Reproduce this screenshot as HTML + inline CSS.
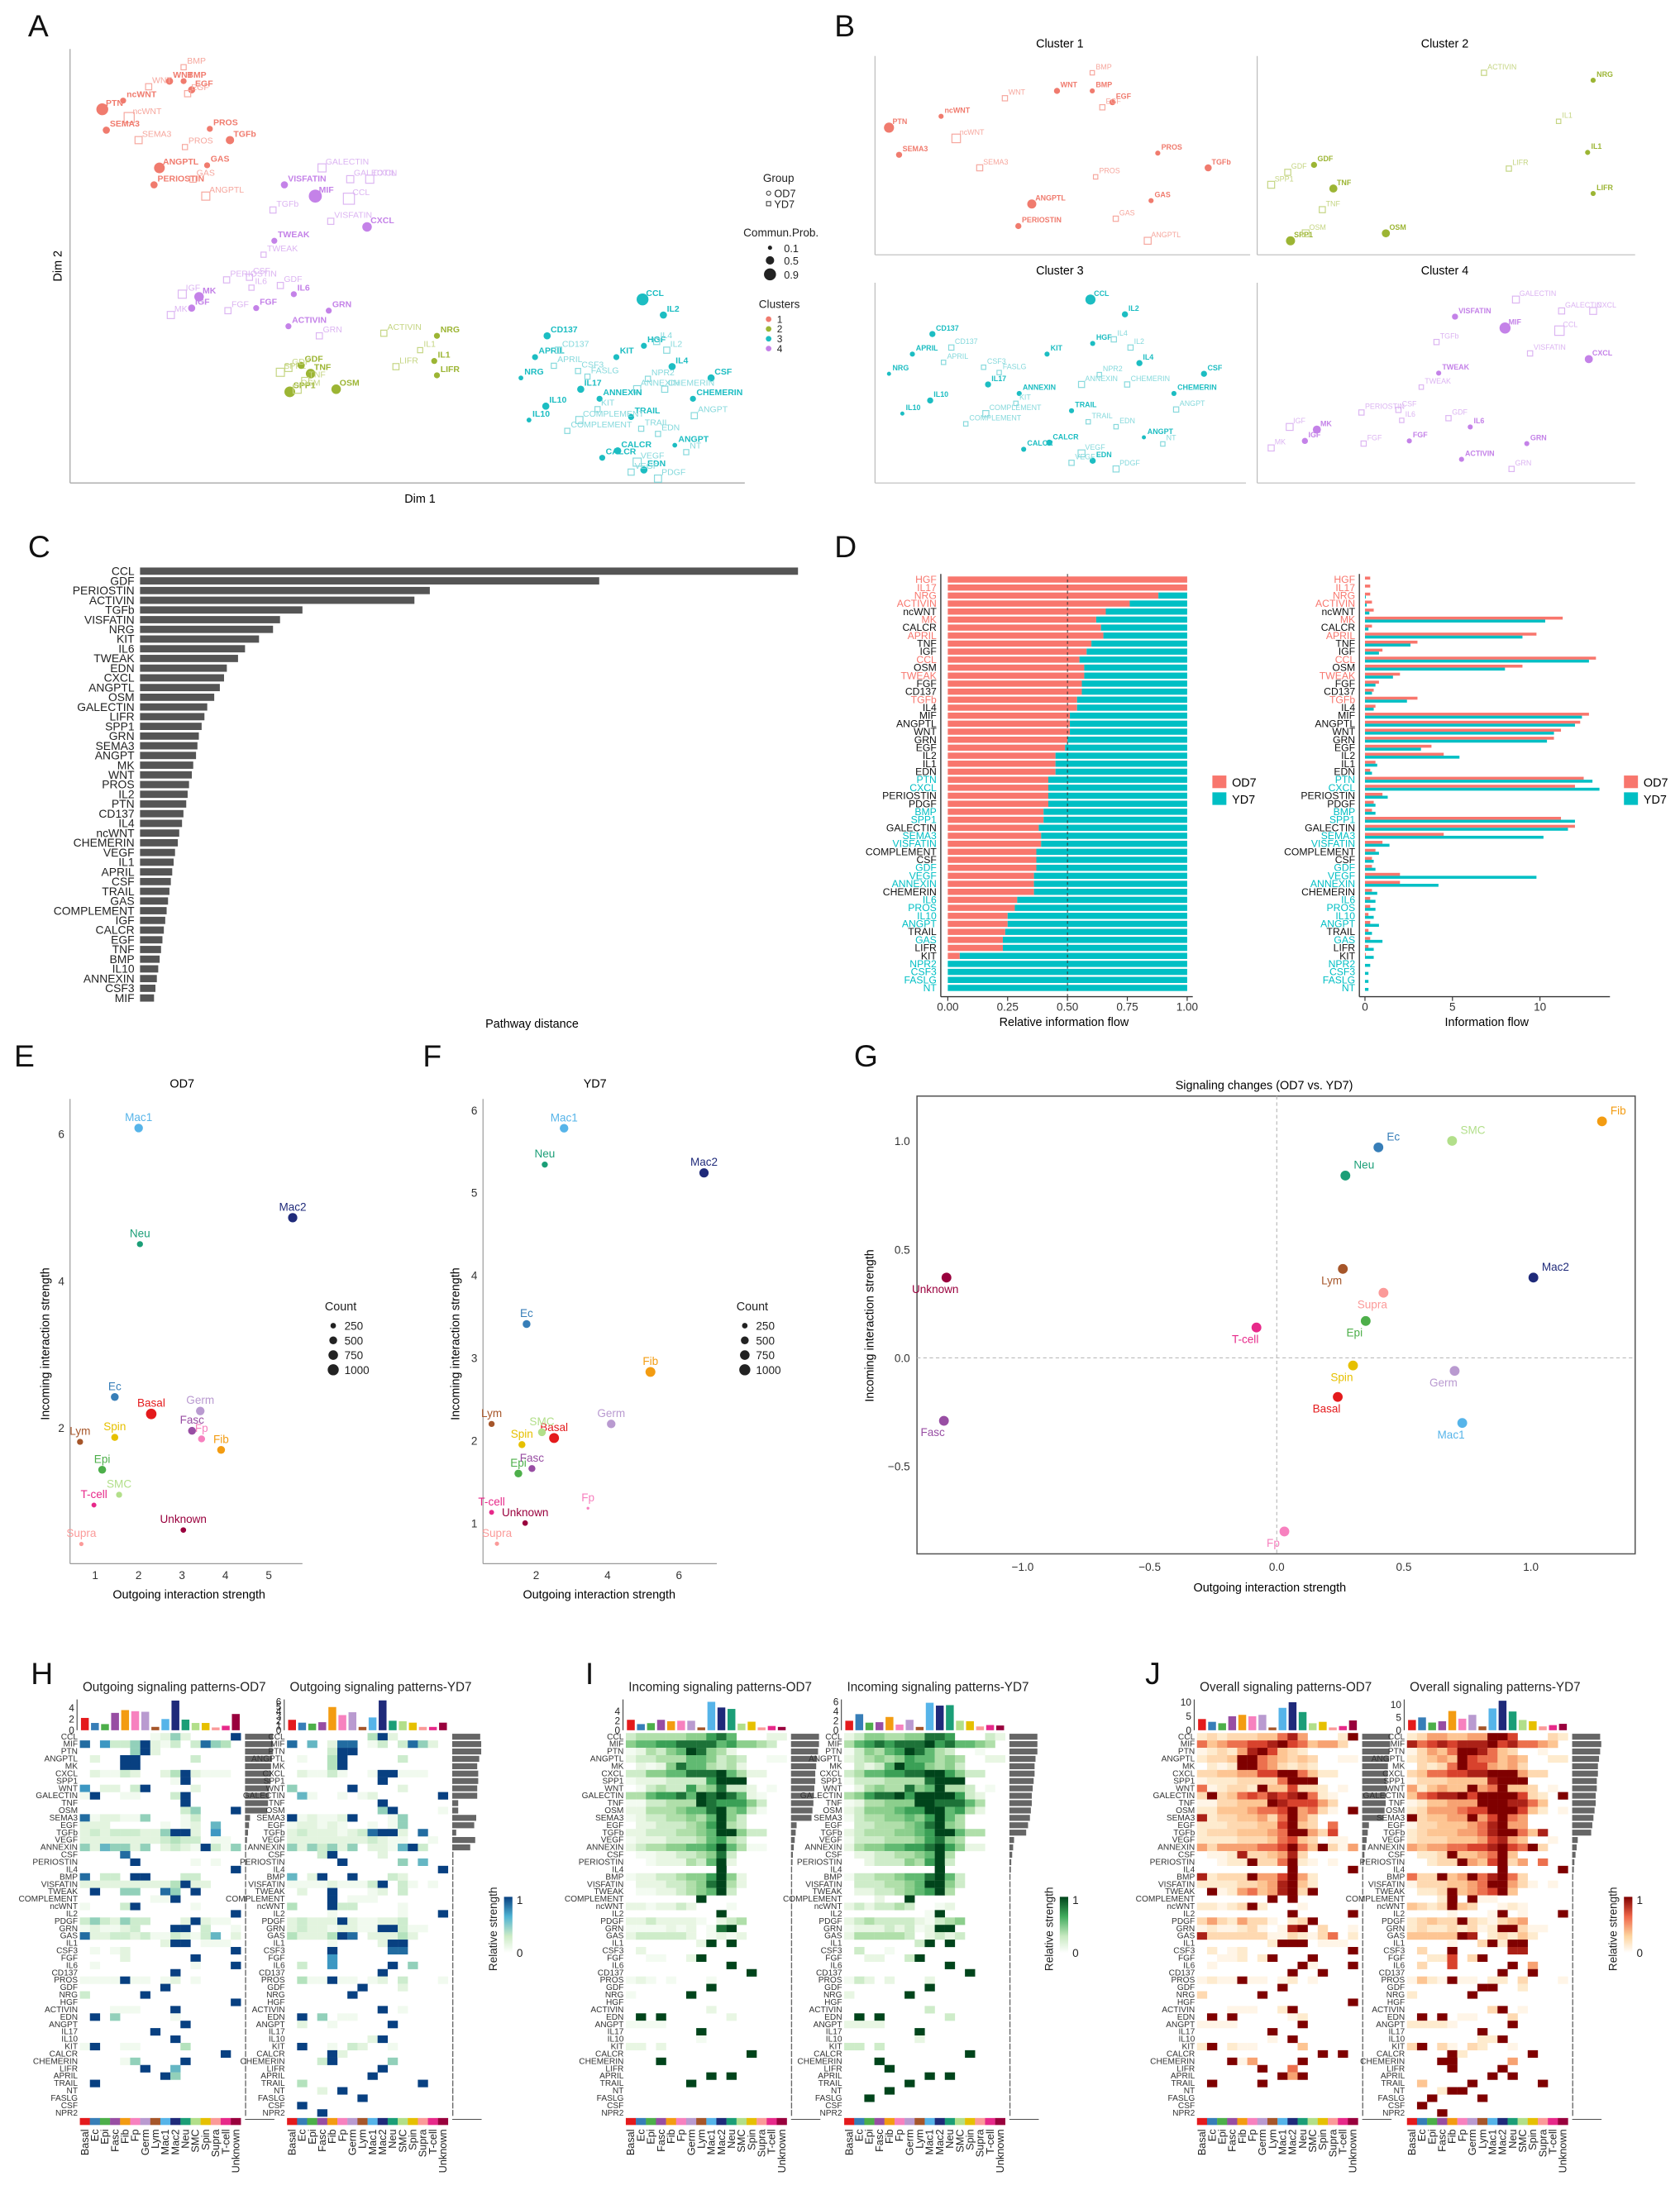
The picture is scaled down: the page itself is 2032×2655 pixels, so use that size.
<!DOCTYPE html>
<html><head><meta charset="utf-8"><title>Signaling figure</title>
<style>
html,body{margin:0;padding:0;background:#fff}
svg{display:block;font-family:"Liberation Sans",Arial,sans-serif}
</style></head>
<body>
<svg id="fig" xmlns="http://www.w3.org/2000/svg" width="2032" height="2655" viewBox="0 0 1200 1568">
<defs>
<linearGradient id="gGnBu" x1="0" y1="1" x2="0" y2="0"><stop offset="0" stop-color="#ffffff"/><stop offset=".3" stop-color="#ccebc5"/><stop offset=".65" stop-color="#4eb3d3"/><stop offset="1" stop-color="#084081"/></linearGradient>
<linearGradient id="gGreens" x1="0" y1="1" x2="0" y2="0"><stop offset="0" stop-color="#ffffff"/><stop offset=".3" stop-color="#c7e9c0"/><stop offset=".65" stop-color="#41ab5d"/><stop offset="1" stop-color="#00441b"/></linearGradient>
<linearGradient id="gOrRd" x1="0" y1="1" x2="0" y2="0"><stop offset="0" stop-color="#ffffff"/><stop offset=".3" stop-color="#fdd49e"/><stop offset=".65" stop-color="#ef6548"/><stop offset="1" stop-color="#7f0000"/></linearGradient>
</defs>
<rect x="0" y="0" width="1200" height="1568" fill="#fff"/>
<g font-size="22" fill="#111">
<text x="20" y="26">A</text>
<text x="596" y="26">B</text>
<text x="20" y="398">C</text>
<text x="596" y="398">D</text>
<text x="10" y="762">E</text>
<text x="302" y="762">F</text>
<text x="610" y="762">G</text>
<text x="22" y="1203">H</text>
<text x="418" y="1203">I</text>
<text x="818" y="1203">J</text>
</g>
<!-- Panel A axes -->
<line x1="50" y1="35" x2="50" y2="345" stroke="#aaa" stroke-width="0.8"/>
<line x1="50" y1="345" x2="532" y2="345" stroke="#aaa" stroke-width="0.8"/>
<text x="300" y="359" font-size="8.5" text-anchor="middle">Dim 1</text>
<text x="44" y="190" font-size="8.5" text-anchor="middle" transform="rotate(-90 44 190)">Dim 2</text>
<g font-size="8" fill="#222">
<text x="545" y="130">Group</text>
<circle cx="549" cy="138" r="1.5" fill="none" stroke="#333" stroke-width=".6"/><text x="553" y="141" font-size="7.5">OD7</text>
<rect x="547.5" y="144" width="3" height="3" fill="none" stroke="#333" stroke-width=".6"/><text x="553" y="148.5" font-size="7.5">YD7</text>
<text x="531" y="169">Commun.Prob.</text>
<circle cx="550" cy="177" r="1.5" fill="#222"/><text x="560" y="180" font-size="7.5">0.1</text>
<circle cx="550" cy="186" r="3" fill="#222"/><text x="560" y="189" font-size="7.5">0.5</text>
<circle cx="550" cy="196" r="4.3" fill="#222"/><text x="560" y="199" font-size="7.5">0.9</text>
<text x="542" y="220">Clusters</text>
<circle cx="549" cy="228" r="2" fill="#f07b6e"/><text x="555" y="230.5" font-size="7">1</text>
<circle cx="549" cy="235" r="2" fill="#9cb534"/><text x="555" y="237.5" font-size="7">2</text>
<circle cx="549" cy="242" r="2" fill="#1cbdc2"/><text x="555" y="244.5" font-size="7">3</text>
<circle cx="549" cy="249" r="2" fill="#c482e8"/><text x="555" y="251.5" font-size="7">4</text>
</g>
<!-- Panel B titles -->
<g font-size="8.5" text-anchor="middle">
<text x="757" y="34">Cluster 1</text>
<text x="1032" y="34">Cluster 2</text>
<text x="757" y="196">Cluster 3</text>
<text x="1032" y="196">Cluster 4</text>
</g>
<text x="380" y="734" font-size="8.5" text-anchor="middle">Pathway distance</text>
<text x="760" y="733" font-size="8.5" text-anchor="middle">Relative information flow</text>
<text x="1062" y="733" font-size="8.5" text-anchor="middle">Information flow</text>
<g font-size="8.5">
<rect x="866" y="554" width="10" height="9" fill="#f8766d"/><text x="880" y="562">OD7</text>
<rect x="866" y="566" width="10" height="9" fill="#00bfc4"/><text x="880" y="574">YD7</text>
<rect x="1160" y="554" width="10" height="9" fill="#f8766d"/><text x="1174" y="562">OD7</text>
<rect x="1160" y="566" width="10" height="9" fill="#00bfc4"/><text x="1174" y="574">YD7</text>
</g>
<!-- E/F/G titles -->
<text x="130" y="777" font-size="8.5" text-anchor="middle">OD7</text>
<text x="425" y="777" font-size="8.5" text-anchor="middle">YD7</text>
<text x="903" y="778" font-size="8.5" text-anchor="middle">Signaling changes (OD7 vs. YD7)</text>
<text x="135" y="1142" font-size="8.5" text-anchor="middle">Outgoing interaction strength</text>
<text x="428" y="1142" font-size="8.5" text-anchor="middle">Outgoing interaction strength</text>
<text x="907" y="1137" font-size="8.5" text-anchor="middle">Outgoing interaction strength</text>
<text x="35" y="960" font-size="8.5" text-anchor="middle" transform="rotate(-90 35 960)">Incoming interaction strength</text>
<text x="328" y="960" font-size="8.5" text-anchor="middle" transform="rotate(-90 328 960)">Incoming interaction strength</text>
<text x="624" y="947" font-size="8.5" text-anchor="middle" transform="rotate(-90 624 947)">Incoming interaction strength</text>
<g id="layer"></g>
</svg>
<script>
// ---------- Panel A / B data ----------
const aLabels=["WNT","BMP","EGF","BMP","WNT","EGF","PTN","ncWNT","ncWNT","SEMA3","SEMA3","PROS","PROS","TGFb","ANGPTL","GAS","GAS","PERIOSTIN","ANGPTL",
"GALECTIN","GALECTIN","VISFATIN","MIF","CCL","CXCL","TGFb","CXCL","VISFATIN","TWEAK","TWEAK","PERIOSTIN","CSF","GDF","MK","IGF","IGF","MK","FGF","FGF","IL6","ACTIVIN","GRN","GRN","IL6",
"ACTIVIN","NRG","IL1","IL1","LIFR","LIFR","SPP1","GDF","TNF","SPP1","OSM","OSM","TNF","GDF",
"CCL","IL2","CD137","APRIL","CD137","HGF","IL4","IL2","KIT","CSF3","APRIL","IL4","CSF","NRG","IL17","ANNEXIN","CHEMERIN","ANNEXIN","IL10","CHEMERIN","TRAIL","ANGPT","IL10","COMPLEMENT","ANGPT","CALCR","VEGF","CALCR","EDN","PDGF","NT","EDN","KIT","COMPLEMENT","FASLG","NPR2","TRAIL","VEGF"];
const aCluster=[1,1,1,1,1,1,1,1,1,1,1,1,1,1,1,1,1,1,1, 4,4,4,4,4,4,4,4,4,4,4,4,4,4,4,4,4,4,4,4,4,4,4,4,4, 2,2,2,2,2,2,2,2,2,2,2,2,2,2, 3,3,3,3,3,3,3,3,3,3,3,3,3,3,3,3,3,3,3,3,3,3,3,3,3,3,3,3,3,3,3,3,3,3,3,3,3,3];
const aGroup="OOOYYYOOYOYOYOOOYOY"+"YYOOYYYOYOYYYYOYOYYOOOOYY"+"YOYOOYYOOOYOYY"+"OOOOYOYYOYYOOOOYYOOOOYOYOOYOOYYYYYYY";
const aDim1=[14.8,16.9,18.1,16.9,11.7,17.5,4.8,7.9,8.8,5.4,10.2,20.8,17.1,23.8,13.3,20.4,18.3,12.5,20.2,
37.5,41.7,31.9,36.5,41.5,44.6,30.2,44.2,38.8,30.4,28.8,23.3,26.7,31.3,19.2,16.7,18.1,15.0,23.5,27.7,33.3,32.5,38.5,37.1,27.0,
46.7,54.6,52.1,54.2,54.6,48.5,31.3,34.4,35.8,32.7,33.8,39.6,35.0,32.5,
85.2,88.3,71.0,69.2,72.7,85.4,87.3,88.8,81.3,75.6,72.0,89.6,95.4,67.1,76.0,84.4,88.5,78.8,70.8,92.7,83.5,92.9,68.3,75.8,90.0,81.5,84.4,79.2,85.4,87.5,91.7,87.5,78.5,74.0,77.0,86.0,85.0,83.5];
const aDim2=[92.6,92.6,90.6,95.8,91.3,89.7,86.1,88.1,84.2,81.3,79.0,81.6,77.4,79.0,72.6,73.2,70.0,68.7,66.1,
72.6,70.0,68.7,66.1,65.5,70.0,62.9,59.0,60.3,55.8,52.6,46.8,47.4,45.5,42.9,43.5,40.3,38.7,39.7,40.3,43.5,36.1,39.7,33.9,45.0,
34.5,33.9,30.6,28.1,24.8,26.8,25.5,27.1,25.2,21.0,21.6,21.6,23.5,26.5,
42.3,38.7,33.9,29.0,30.6,31.6,32.6,30.6,29.0,25.8,27.0,26.8,24.2,24.2,21.6,21.6,21.6,19.4,17.7,19.4,15.2,15.5,14.5,14.5,8.7,7.4,4.8,5.8,3.0,1.0,7.1,11.3,17.0,12.0,24.5,24.0,12.5,2.5];
const aProb=[.3,.2,.3,.1,.2,.2,.7,.2,.6,.3,.3,.2,.1,.4,.6,.2,.2,.3,.4,
.4,.3,.3,.8,.7,.4,.2,.5,.2,.2,.1,.2,.2,.2,.5,.4,.3,.3,.2,.2,.2,.2,.2,.2,.1,
.2,.2,.1,.2,.2,.2,.4,.3,.5,.6,.4,.5,.3,.3,
.7,.3,.3,.2,.2,.2,.2,.2,.2,.1,.1,.3,.3,.1,.3,.3,.2,.2,.3,.2,.2,.2,.1,.3,.1,.3,.4,.2,.3,.3,.1,.1,.1,.1,.1,.1,.1,.2];

// ---------- Panel C data ----------
const cNames=["CCL","GDF","PERIOSTIN","ACTIVIN","TGFb","VISFATIN","NRG","KIT","IL6","TWEAK","EDN","CXCL","ANGPTL","OSM","GALECTIN","LIFR","SPP1","GRN","SEMA3","ANGPT","MK","WNT","PROS","IL2","PTN","CD137","IL4","ncWNT","CHEMERIN","VEGF","IL1","APRIL","CSF","TRAIL","GAS","COMPLEMENT","IGF","CALCR","EGF","TNF","BMP","IL10","ANNEXIN","CSF3","MIF"];
const cDist=[4.70,3.28,2.07,1.96,1.16,1.00,0.95,0.85,0.75,0.70,0.62,0.60,0.57,0.53,0.48,0.46,0.44,0.42,0.41,0.40,0.38,0.37,0.35,0.34,0.33,0.31,0.30,0.28,0.27,0.25,0.24,0.23,0.22,0.21,0.20,0.19,0.18,0.17,0.16,0.15,0.14,0.13,0.12,0.11,0.10];

// ---------- Panel D data ----------
const dNames=["HGF","IL17","NRG","ACTIVIN","ncWNT","MK","CALCR","APRIL","TNF","IGF","CCL","OSM","TWEAK","FGF","CD137","TGFb","IL4","MIF","ANGPTL","WNT","GRN","EGF","IL2","IL1","EDN","PTN","CXCL","PERIOSTIN","PDGF","BMP","SPP1","GALECTIN","SEMA3","VISFATIN","COMPLEMENT","CSF","GDF","VEGF","ANNEXIN","CHEMERIN","IL6","PROS","IL10","ANGPT","TRAIL","GAS","LIFR","KIT","NPR2","CSF3","FASLG","NT"];
const dSig="rrrrkrkrkkrkrkkrkkkkkkkkkttkkttkttkktttkttttktkktttt";
const dOD7Frac=[1,1,.88,.76,.66,.62,.64,.65,.6,.58,.55,.57,.57,.56,.56,.54,.54,.51,.51,.51,.5,.49,.45,.45,.45,.42,.42,.42,.42,.4,.4,.38,.39,.39,.37,.37,.37,.36,.36,.36,.29,.28,.25,.25,.24,.23,.23,.05,0,0,0,0];
const dOD7Flow=[.3,.3,.3,.4,.5,11.3,.4,9.8,3.0,1.0,13.2,9.0,2.0,.8,.5,3.0,.6,12.8,12.3,11.2,10.8,3.8,4.5,.6,.3,12.5,12.0,1.0,.5,.4,11.2,12.0,4.5,1.0,.6,.4,.4,2.0,2.0,.4,.3,.3,.2,.3,.2,.3,.2,.05,0,0,0,0];
const dYD7Flow=[0,0,.05,.1,.25,10.3,.2,9.0,2.6,.8,12.8,8.0,1.6,.6,.4,2.4,.5,12.4,12.0,10.8,10.4,3.2,5.4,.7,.4,13.0,13.4,1.3,.6,.6,12.0,11.6,10.2,1.4,.8,.5,.6,9.8,4.2,.7,.6,.6,.5,.8,.4,1.0,.5,.5,.3,.2,.2,.2];
const dRelTicks=["0.00","0.25","0.50","0.75","1.00"];
const dFlowTicks=[0,5,10];

// ---------- Panels E/F/G data ----------
const cellTypes=["Basal","Ec","Epi","Fasc","Fib","Fp","Germ","Lym","Mac1","Mac2","Neu","SMC","Spin","Supra","T-cell","Unknown"];
const cellColors=["#e41a1c","#377eb8","#4daf4a","#984ea3","#f39c12","#f781bf","#b99ad0","#a6562a","#56b4e9","#1f2a7a","#1b9e77","#b2df8a","#e6c000","#fb9a99","#e7298a","#99003d"];
const eOut=[2.29,1.45,1.16,3.23,3.9,3.45,3.42,0.65,2.0,5.55,2.03,1.55,1.45,0.68,0.97,3.03];
const eIn=[2.19,2.42,1.43,1.96,1.7,1.85,2.23,1.81,6.08,4.86,4.5,1.09,1.87,0.42,0.95,0.61];
const eCount=[900,500,500,500,500,400,600,300,600,700,300,300,400,150,200,250];
const fOut=[2.5,1.73,1.5,1.88,5.2,3.45,4.1,0.75,2.78,6.7,2.24,2.16,1.6,0.9,0.75,1.69];
const fIn=[2.03,3.41,1.6,1.66,2.83,1.18,2.2,2.2,5.78,5.24,5.34,2.1,1.95,0.75,1.13,1.0];
const fCount=[800,500,500,400,800,50,600,300,600,700,300,500,400,150,200,250];
const gOut=[0.24,0.40,0.35,-1.31,1.28,0.03,0.70,0.26,0.73,1.01,0.27,0.69,0.30,0.42,-0.08,-1.30];
const gIn=[-0.18,0.97,0.17,-0.29,1.09,-0.80,-0.06,0.41,-0.30,0.37,0.84,1.00,-0.035,0.30,0.14,0.37];
const eTicksX=[1,2,3,4,5], eTicksY=[2,4,6];
const fTicksX=[2,4,6], fTicksY=[1,2,3,4,5,6];
const gTicksX=[-1.0,-0.5,0.0,0.5,1.0], gTicksY=[-0.5,0.0,0.5,1.0];
const countLegend=[250,500,750,1000];

// ---------- Heatmap data ----------
const hmRows=["CCL","MIF","PTN","ANGPTL","MK","CXCL","SPP1","WNT","GALECTIN","TNF","OSM","SEMA3","EGF","TGFb","VEGF","ANNEXIN","CSF","PERIOSTIN","IL4","BMP","VISFATIN","TWEAK","COMPLEMENT","ncWNT","IL2","PDGF","GRN","GAS","IL1","CSF3","FGF","IL6","CD137","PROS","GDF","NRG","HGF","ACTIVIN","EDN","ANGPT","IL17","IL10","KIT","CALCR","CHEMERIN","LIFR","APRIL","TRAIL","NT","FASLG","CSF","NPR2"];
const hOD7=["0000000125200009","8073359213038540","0000059200000000","0200990000030000","0000990000000000","0211320024921110","0000000001900000","7022039000020000","1900110003900000","0000000000900000","0000000000350009","8122115000130000","2220000010120600","2323332259920700","2222222234330110","5265525023219315","0000800000000000","0000090000010100","0000000000000009","8033099000330000","2222222224922000","0900550085090000","0000000119000000","1000390000010000","0000000000000009","3532533000292110","1211230009903001","8223323113213602","0000000029901110","0101200000000009","0000200000090000","0100000000010009","0000000009000000","1111911012010000","0000000090000000","3000009000000000","0000000000000009","0001110009000000","0905000001000000","0000000000900000","0000000900000000","0000000009000000","1900110000400000","0000000000000090","0000150000900000","0000009006000000","0000000095000000","0900000000000000","0000000000000000","0000000000000000","0000000000000000","0000000000000000"];
const hYD7=["0000000049200000","8060288013038520","0000399000000000","0100490000030000","0000490000000000","0211310019911100","0000000009000000","5000009000020000","0610010120000009","0000000009000000","0000000005900001","9121129000150000","1221210010150000","2322212389920800","2222222232110010","5253525022169300","0003900002000000","0000090000050600","0000000000000009","6029009000320000","1111211139031010","0200900012030000","0000901110000000","4000933000010000","0000100000010009","2322292112230000","2322122119931100","4222498022242000","0000100002990000","0000900000880000","0000700000000000","0300700000905000","0000000009000000","0411911012030001","0000000900020000","0000009000000000","0000000000000000","0000000009010000","0905011000000000","0200100000900000","0000000000000000","0000000029000000","0900103200100000","0000920000000000","0003900000500000","0000000009000000","0000000090000000","0400000000000900","0002090000000000","0000000900000000","0900000000000000","0009000000000000"];
const iOD7=["3444445578600022","5667788886755430","1243569854200000","2334446653430011","0212586643420000","3355668889642200","1222333379990000","0134337458332010","4467786989862100","1133444987775300","2244456689563100","1233445469530000","0223334579430000","2233344569953300","1222333467430000","2344556679641100","0112233458300000","0012224369200000","0000000009000000","1223345579520000","0222334589420000","0112234569300000","0000000900000000","2212232000100000","0000000009000000","2232222102340000","1111212018900000","2333332012120000","0000000290900000","0200000000000000","0011002900000000","0000000000900000","0000000000009000","1210100010000000","0000000090000000","1000009000000000","0000000000000000","0000000020000000","0909000000200000","1111000000000000","0000000900000000","0000000100000000","2202000000000000","0000000000009000","0009000000000000","0000000000000000","0000000090900000","0000009000000000","0000000000000000","0000000000000000","0000000000000000","0000000000000000"];
const iYD7=["2355445588700032","4678788897866540","1354679864300100","2345457664540022","0323697754530000","3466778899753300","1333444489990000","0245448569443010","4578897999973200","1244555998886400","2355567799674200","1344556579640000","0334445689540000","2344455679964400","1333444578540000","2455667789752200","0223344569400000","0023335479300000","0000000009000000","1334456689630000","0333445699530000","0223345679400000","0002009000000000","2323343001200000","0000000019000000","2343333213450000","1222323129900000","2444443023230000","0000000390900000","0300100000000000","0022003900000000","0000000000900000","0000000000009000","1320200020000000","0000000090000000","2000009000000000","0000000000000000","0000000030000000","0909000000300000","2222000000000000","0000000900000000","0000000200000000","3303000000000000","0000000000009000","0009000000000000","0000900000000000","0000000090900000","0000009000000000","0000900000000000","0090000000000000","0000000000000000","0000000000000000"];
const jOD7=["2323334468500029","6456677897645530","1232589743200000","2334996543430011","0212996532320000","3344557799642200","1222333369990000","6123329447332010","3934676878962100","1133444987775300","2244456679563109","8233445369530000","2223334479430600","2333444569953700","2222333467430110","5355556679649315","0112833458300000","0012293369210100","0000000009000009","8233395579520000","2222334589420000","0912564589390000","0000000909000000","2212392000100000","0000000009000009","3532533102390000","1211231018903001","8333333113213602","0000000299901110","0201200000000009","0011202900090000","0100000000910009","0000000009009000","1211911012010000","0000000090000000","3000009000000000","0000000000000009","0001110029000000","0909000001200000","1111000000900000","0000000900000000","0000000109000000","2902110000400000","0000000000009090","0009150000900000","0000009006000000","0000000095900000","0900009000000000","0000000000000000","0000000000000000","0000000000000000","0000000000000000"];
const jYD7=["2355445599700032","8678788897866540","1354699864300100","2345497664540022","0323697754530000","3466778899953300","1333444489990000","5245449569443010","4678897999973209","1244555999886400","2355567799974201","9344559579650000","1334445689550000","2344455689964800","2333444578540010","5455667789769300","0223944569400000","0023395479350600","0000000009000009","6339459689630000","1333445699531010","0223945679400000","0002909110000000","4323943001210000","0000100019010009","2343393213450000","2322323129931100","4444498023242000","0000100392990000","0300900000880000","0022703900000000","0300700000905000","0000000009009000","1421911022030001","0000000990020000","2000009000000000","0000000000000000","0000000039010000","0909011000300000","2222100000900000","0000000900000000","0000000229000000","3903103200100000","0000920000009000","0009900000500000","0000900009000000","0000000090900000","0400009000000900","0002990000000000","0090000900000000","0900000000000000","0009000000000000"];
const hTopOD7=[2.2,1.3,1.1,3.1,3.6,3.4,3.3,0.6,2.0,5.3,1.9,1.3,1.3,0.5,0.8,2.9];
const hTopYD7=[2.2,1.6,1.4,1.7,4.9,3.2,3.8,0.7,2.7,6.3,2.0,1.9,1.6,0.7,0.7,1.6];
const iTopOD7=[2.2,1.3,1.5,2.2,1.9,2.0,2.0,0.6,6.0,4.8,4.5,1.4,1.8,0.6,0.9,0.7];
const iTopYD7=[2.0,3.4,1.6,1.7,2.8,1.2,2.2,0.7,5.8,5.2,5.3,2.0,1.9,0.8,1.1,1.0];
const jTopOD7=[4,3,2.5,5,5.5,5,5.5,1,8,10,6.5,2.5,3,1,1.5,3.5];
const jTopYD7=[4,5,3,3.5,7.5,4.5,6,1.5,8.5,11.5,7.3,4,3.5,1.5,2,2.5];
const hTotOD7=[14,14,14,13.5,13,13,12.5,12,12,11.5,11,2.5,2,1.5,1,.6,.4,.4,.3,.3,.3,.3,.3,.3,.3,.3,.3,.3,.3,.3,.3,.3,.3,.3,.3,.3,.3,.3,.3,.3,.3,.3,.3,.3,.3,.3,.3,.3,.3,.3,.3,.3];
const hTotYD7=[14,14.5,14.5,13.5,12.5,13,13,12.5,12.5,3,3,12,11,2,11.5,9,.6,.6,.5,.5,.5,.5,.5,.5,.5,.5,.5,.5,.5,.5,.5,.5,.5,.5,.5,.5,.5,.5,.5,.5,.5,.5,.5,.5,.5,.5,.5,.5,.5,.5,.5,.5];
const iTotOD7=[15,15,14.5,14,13.5,13,13,12.5,12,12,11.5,11,3,2.5,2,1.5,1,.8,.6,.5,.4,.4,.4,.4,.4,.4,.4,.4,.4,.4,.4,.4,.4,.4,.4,.4,.4,.4,.4,.4,.4,.4,.4,.4,.4,.4,.4,.4,.4,.4,.4,.4];
const iTotYD7=[15,15,15,14,13.5,13.5,13,12.5,12,12,11.5,11,10,9,2.5,2,1.5,1,.8,.6,.5,.5,.5,.5,.5,.5,.5,.5,.5,.5,.5,.5,.5,.5,.5,.5,.5,.5,.5,.5,.5,.5,.5,.5,.5,.5,.5,.5,.5,.5,.5,.5];
const jTotOD7=[25,25,24,24,23,23,22,22,21,21,20,19,6,5,4,3,2,1.5,1,.8,.8,.6,.6,.6,.6,.6,.6,.6,.6,.6,.6,.6,.6,.6,.6,.6,.6,.6,.6,.6,.6,.6,.6,.6,.6,.6,.6,.6,.6,.6,.6,.6];
const jTotYD7=[25,26,25,24,23,23,22,22,21,21,20,19,18,17,5,4,3,2,1.5,1,.8,.8,.8,.8,.8,.8,.8,.8,.8,.8,.8,.8,.8,.8,.8,.8,.8,.8,.8,.8,.8,.8,.8,.8,.8,.8,.8,.8,.8,.8,.8,.8];

// ---------- helpers ----------
const NS='http://www.w3.org/2000/svg';
const L=document.getElementById('layer');
function mk(tag,attrs,parent){const e=document.createElementNS(NS,tag);for(const k in attrs)e.setAttribute(k,attrs[k]);(parent||L).appendChild(e);return e;}
function tx(x,y,s,attrs,parent){const e=mk('text',Object.assign({x:x,y:y},attrs||{}),parent);e.textContent=s;return e;}
function fmt(v,d){return v.toFixed(d).replace('-','\u2212');}
const clDark={1:"#f07b6e",2:"#9cb534",3:"#1cbdc2",4:"#c482e8"};
const clLight={1:"#f6a79e",2:"#c5d583",3:"#86d9dc",4:"#dcb5f2"};

// ---------- Panel A ----------
const ax=d=>50+d*4.8, ay=d=>345-d*3.1;
function drawPoint(i,px,py,scale,prefix){
  const c=aCluster[i], isO=aGroup[i]==='O';
  let m;
  if(isO){
    m=mk('circle',{cx:px,cy:py,r:(1.3+aProb[i]*4.2)*scale,fill:clDark[c]});
  } else {
    const s=(3+aProb[i]*7)*scale;
    m=mk('rect',{x:px-s/2,y:py-s/2,width:s,height:s,fill:'none',stroke:clLight[c],'stroke-width':0.7});
  }
  
  
  const t=tx(px+2.5,py-2.5,aLabels[i],{'font-size':6.2*scale,fill:isO?clDark[c]:clLight[c],'font-weight':isO?'bold':'normal'});
  
  
}
for(let i=0;i<aLabels.length;i++){drawPoint(i,ax(aDim1[i]),ay(aDim2[i]),1,'a');}

// ---------- Panel B ----------
const bBoxes={1:[625,40,893,182],2:[898,40,1168,182],3:[625,202,890,345],4:[898,202,1168,345]};
for(const k of [1,2,3,4]){
  const b=bBoxes[k];
  const la=mk('line',{x1:b[0],y1:b[1],x2:b[0],y2:b[3],stroke:'#bbb','stroke-width':0.7});
  
  
  const lb=mk('line',{x1:b[0],y1:b[3],x2:b[2],y2:b[3],stroke:'#bbb','stroke-width':0.7});
  
  
  const idx=[];for(let i=0;i<aLabels.length;i++)if(aCluster[i]===k)idx.push(i);
  const xs=idx.map(i=>aDim1[i]), ys=idx.map(i=>aDim2[i]);
  const x0=Math.min(...xs),x1=Math.max(...xs),y0=Math.min(...ys),y1=Math.max(...ys);
  const bx=d=>b[0]+10+(d-x0)/(x1-x0)*(b[2]-b[0]-40);
  const by=d=>b[3]-10-(d-y0)/(y1-y0)*(b[3]-b[1]-22);
  idx.forEach(i=>drawPoint(i,bx(aDim1[i]),by(aDim2[i]),0.85,'b'+k));
}

// ---------- Panel C ----------
const cx=v=>100+v*100, cRow=i=>408+i*6.93;
cNames.forEach((n,i)=>{
  const r=mk('rect',{x:100,y:cRow(i)-2.6,width:cx(cDist[i])-100,height:5.2,fill:'#555'});
  
  
  const t=tx(96,cRow(i)+2.8,n,{'font-size':8.2,'text-anchor':'end',fill:'#222'});
  
  
});

// ---------- Panel D ----------
const dx=v=>677+v*171, dRow=i=>414+i*5.72;
const sigCol={r:'#f8766d',t:'#00bfc4',k:'#111'};
dNames.forEach((n,i)=>{
  const y=dRow(i);
  const r1=mk('rect',{x:dx(0),y:y-2.2,width:dx(dOD7Frac[i])-dx(0),height:4.4,fill:'#f8766d'});
  
  
  const r2=mk('rect',{x:dx(dOD7Frac[i]),y:y-2.2,width:dx(1)-dx(dOD7Frac[i]),height:4.4,fill:'#00bfc4'});
  
  
  const t=tx(669,y+2.4,n,{'font-size':7.2,'text-anchor':'end',fill:sigCol[dSig[i]]});
  
  
  // right panel
  const fx=v=>975+v*12.5;
  const b1=mk('rect',{x:975,y:y-2.1,width:fx(dOD7Flow[i])-975,height:2.1,fill:'#f8766d'});
  
  
  const b2=mk('rect',{x:975,y:y,width:fx(dYD7Flow[i])-975,height:2.1,fill:'#00bfc4'});
  
  
  const t2=tx(968,y+2.4,n,{'font-size':7.2,'text-anchor':'end',fill:sigCol[dSig[i]]});
  
  
});
(function(){
  const a1=mk('line',{x1:672,y1:410,x2:672,y2:712,stroke:'#333','stroke-width':0.8});
  
  
  const a2=mk('line',{x1:672,y1:712,x2:852,y2:712,stroke:'#333','stroke-width':0.8});
  
  
  const dl=mk('line',{x1:dx(0.5),y1:410,x2:dx(0.5),y2:712,stroke:'#333','stroke-width':0.6,'stroke-dasharray':'2,2'});
  
  
  dRelTicks.forEach(s=>{
    const v=parseFloat(s);
    const tk=mk('line',{x1:dx(v),y1:712,x2:dx(v),y2:715,stroke:'#333','stroke-width':0.7});
    
    
    const t=tx(dx(v),722,s,{'font-size':8,'text-anchor':'middle',fill:'#333'});
    
    
  });
  const b1=mk('line',{x1:971,y1:410,x2:971,y2:712,stroke:'#333','stroke-width':0.8});
  
  
  const b2=mk('line',{x1:971,y1:712,x2:1150,y2:712,stroke:'#333','stroke-width':0.8});
  
  
  dFlowTicks.forEach(v=>{
    const X=975+v*12.5;
    const tk=mk('line',{x1:X,y1:712,x2:X,y2:715,stroke:'#333','stroke-width':0.7});
    
    
    const t=tx(X,722,String(v),{'font-size':8,'text-anchor':'middle',fill:'#333'});
    
    
  });
})();

// ---------- Panels E / F ----------
function scatter(prefix,outs,ins,counts,sx,sy,ticksX,ticksY,left,bottom,right,top){
  const ya=mk('line',{x1:left,y1:top,x2:left,y2:bottom,stroke:'#999','stroke-width':0.7});
  
  
  const xa=mk('line',{x1:left,y1:bottom,x2:right,y2:bottom,stroke:'#999','stroke-width':0.7});
  
  
  ticksX.forEach(v=>{
    const t=tx(sx(v),bottom+11,String(v),{'font-size':8,'text-anchor':'middle',fill:'#333'});
    
    
  });
  ticksY.forEach(v=>{
    const t=tx(left-4,sy(v)+3,String(v),{'font-size':8,'text-anchor':'end',fill:'#333'});
    
    
  });
  cellTypes.forEach((n,i)=>{
    const c=mk('circle',{cx:sx(outs[i]),cy:sy(ins[i]),r:Math.max(1,Math.sqrt(counts[i])/8),fill:cellColors[i]});
    
    
    const t=tx(sx(outs[i]),sy(ins[i])-5,n,{'font-size':8,'text-anchor':'middle',fill:cellColors[i]});
    
    
  });
}
scatter('e',eOut,eIn,eCount,v=>37+v*31,v=>1125-v*52.5,eTicksX,eTicksY,50,1117,216,785);
scatter('f',fOut,fIn,fCount,v=>332+v*25.5,v=>1147-v*59,fTicksX,fTicksY,345,1117,512,785);
function countLeg(prefix,x,y){
  const t=tx(x,y,'Count',{'font-size':8.5,fill:'#222'});
  
  
  countLegend.forEach((v,i)=>{
    const c=mk('circle',{cx:x+6,cy:y+11+i*10.5,r:Math.sqrt(v)/8,fill:'#222'});
    
    
    const l=tx(x+14,y+14+i*10.5,String(v),{'font-size':8,fill:'#222'});
    
    
  });
}
countLeg('e',232,936);countLeg('f',526,936);

// ---------- Panel G ----------
(function(){
  const gx=v=>912+v*181.5, gy=v=>970-v*155;
  const box=mk('rect',{x:655,y:783,width:513,height:327,fill:'none',stroke:'#555','stroke-width':0.9});
  
  
  const v0=mk('line',{x1:gx(0),y1:783,x2:gx(0),y2:1110,stroke:'#bbb','stroke-width':0.7,'stroke-dasharray':'2.5,2'});
  
  
  const h0=mk('line',{x1:655,y1:gy(0),x2:1168,y2:gy(0),stroke:'#bbb','stroke-width':0.7,'stroke-dasharray':'2.5,2'});
  
  
  gTicksX.forEach(v=>{
    const t=tx(gx(v),1122,fmt(v,1),{'font-size':8,'text-anchor':'middle',fill:'#333'});
    
    
  });
  gTicksY.forEach(v=>{
    const t=tx(650,gy(v)+3,fmt(v,1),{'font-size':8,'text-anchor':'end',fill:'#333'});
    
    
  });
  cellTypes.forEach((n,i)=>{
    const c=mk('circle',{cx:gx(gOut[i]),cy:gy(gIn[i]),r:3.5,fill:cellColors[i]});
    
    
    const below=gIn[i]<0.5&&gOut[i]<0.9;
    const t=tx(gx(gOut[i])+(below?-8:6),gy(gIn[i])+(below?11:-5),n,{'font-size':8,'text-anchor':below?'middle':'start',fill:cellColors[i]});
    
    
  });
})();

// ---------- Heatmaps ----------
function lerp(a,b,t){return a+(b-a)*t;}
function hex(c){return [1,3,5].map(k=>parseInt(c.substr(k,2),16));}
function ramp(stops){const cs=stops.map(hex);return v=>{const p=v*(cs.length-1);const k=Math.min(cs.length-2,Math.floor(p));const t=p-k;const a=cs[k],b=cs[k+1];return 'rgb('+[0,1,2].map(j=>Math.round(lerp(a[j],b[j],t))).join(',')+')';};}
const rampGnBu=ramp(['#ffffff','#e0f3db','#a8ddb5','#43a2ca','#084081']);
const rampGreens=ramp(['#ffffff','#e5f5e0','#a1d99b','#41ab5d','#00441b']);
const rampOrRd=ramp(['#ffffff','#fee8c8','#fdbb84','#e34a33','#7f0000']);
const HT=1238, HB=1512, HW=115;
function heat(prefix,x0,title,mat,top,topMax,topTicks,tot,totMax,colorFn){
  const cw=HW/16, rh=(HB-HT)/hmRows.length;
  const tt=tx(x0+2,1208,title,{'font-size':9,fill:'#222'});
  
  
  // top bars
  const tb=1236, th=22;
  const tax=mk('line',{x1:x0-2,y1:tb,x2:x0-2,y2:tb-th,stroke:'#333','stroke-width':0.6});
  
  
  topTicks.forEach(v=>{
    const t=tx(x0-4,tb-v/topMax*th+2.5,String(v),{'font-size':7,'text-anchor':'end',fill:'#222'});
    
    
  });
  top.forEach((v,j)=>{
    const r=mk('rect',{x:x0+j*cw+0.8,y:tb-v/topMax*th,width:cw-1.6,height:v/topMax*th,fill:cellColors[j]});
    
    
  });
  // cells
  hmRows.forEach((rn,i)=>{
    const row=mat[i];
    for(let j=0;j<16;j++){
      const d=+row[j];
      if(d>0){
        const c=mk('rect',{x:x0+j*cw,y:HT+i*rh,width:cw+0.1,height:rh+0.1,fill:colorFn(d/9)});
        
        
      }
    }
    const t=tx(x0-1.5,HT+i*rh+rh*0.85,rn,{'font-size':6,'text-anchor':'end',fill:'#333'});
    
    
    const w=tot[i]/totMax*20;
    const b=mk('rect',{x:x0+HW+3,y:HT+i*rh+0.5,width:Math.max(w,0.8),height:rh-1,fill:'#666'});
    
    
  });
  const ra=mk('line',{x1:x0+HW+3,y1:HB+2,x2:x0+HW+24,y2:HB+2,stroke:'#333','stroke-width':0.5});
  
  
  // column strip + labels
  cellTypes.forEach((n,j)=>{
    const s=mk('rect',{x:x0+j*cw,y:HB+1,width:cw+0.1,height:5,fill:cellColors[j]});
    
    
    const X=x0+j*cw+cw/2+2.5, Y=HB+9;
    const t=tx(X,Y,n,{'font-size':7.5,'text-anchor':'end',fill:'#222',transform:'rotate(-90 '+X+' '+Y+')'});
    
    
  });
}
heat('h-od7',57,'Outgoing signaling patterns-OD7',hOD7,hTopOD7,5.5,[0,2,4],hTotOD7,14,rampGnBu);
heat('h-yd7',205,'Outgoing signaling patterns-YD7',hYD7,hTopYD7,6.5,[0,1,2,3,4,5,6],hTotYD7,14,rampGnBu);
heat('i-od7',447,'Incoming signaling patterns-OD7',iOD7,iTopOD7,6.5,[0,2,4],iTotOD7,15,rampGreens);
heat('i-yd7',603,'Incoming signaling patterns-YD7',iYD7,iTopYD7,6.5,[0,2,4,6],iTotYD7,15,rampGreens);
heat('j-od7',855,'Overall signaling patterns-OD7',jOD7,jTopOD7,11,[0,5,10],jTotOD7,25,rampOrRd);
heat('j-yd7',1005,'Overall signaling patterns-YD7',jYD7,jTopYD7,12,[0,5,10],jTotYD7,25,rampOrRd);
function cbar(prefix,x,grad){
  const r=mk('rect',{x:x,y:1355,width:6,height:40,fill:'url(#'+grad+')'});
  
  
  const t1=tx(x+9,1360,'1',{'font-size':8,fill:'#222'});
  
  
  const t0=tx(x+9,1398,'0',{'font-size':8,fill:'#222'});
  
  
  const lx=x-5, ly=1378;
  const t=tx(lx,ly,'Relative strength',{'font-size':8,'text-anchor':'middle',fill:'#222',transform:'rotate(-90 '+lx+' '+ly+')'});
  
  
}
cbar('h',360,'gGnBu');cbar('i',757,'gGreens');cbar('j',1160,'gOrRd');
</script>
</body></html>
